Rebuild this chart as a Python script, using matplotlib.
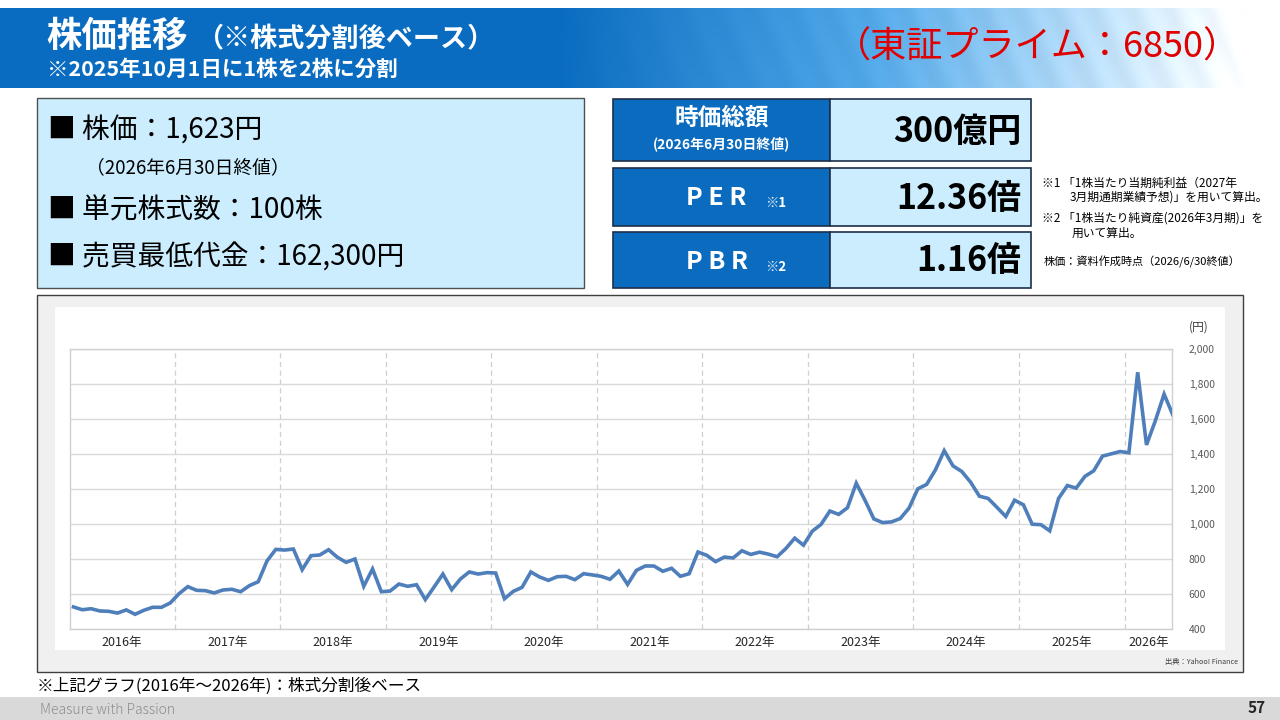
import numpy as np
import matplotlib
matplotlib.use("Agg")
import matplotlib.pyplot as plt
from matplotlib.patches import Rectangle
from matplotlib.ticker import FuncFormatter, FixedLocator

plt.rcParams['font.family'] = ['Noto Sans CJK JP', 'DejaVu Sans']

# ---------------- data ----------------
years = ["2016年", "2017年", "2018年", "2019年", "2020年", "2021年",
         "2022年", "2023年", "2024年", "2025年", "2026年"]
price_2016 = [526, 510, 516, 503, 501, 491, 509, 484, 507, 524, 524, 549]
price_2017 = [602, 642, 621, 619, 606, 623, 627, 613, 648, 670, 789, 855]
price_2018 = [851, 857, 739, 819, 823, 853, 810, 781, 800, 644, 743, 613]
price_2019 = [617, 657, 644, 653, 568, 640, 714, 625, 686, 726, 714, 722]
price_2020 = [720, 573, 615, 638, 726, 697, 678, 699, 701, 682, 716, 709]
price_2021 = [701, 684, 731, 655, 735, 760, 760, 730, 747, 701, 716, 840]
price_2022 = [821, 785, 811, 806, 847, 826, 839, 828, 813, 860, 919, 879]
price_2023 = [959, 998, 1074, 1055, 1093, 1233, 1135, 1029, 1008, 1012, 1031, 1091]
price_2024 = [1201, 1226, 1309, 1419, 1332, 1300, 1239, 1159, 1146, 1095, 1043, 1136]
price_2025 = [1110, 999, 996, 961, 1146, 1220, 1205, 1272, 1304, 1388, 1401, 1414]
price_2026 = [1407, 1867, 1452, 1589, 1742, 1623]
y_ticks = [400, 600, 800, 1000, 1200, 1400, 1600, 1800, 2000]

prices = (price_2016 + price_2017 + price_2018 + price_2019 + price_2020 +
          price_2021 + price_2022 + price_2023 + price_2024 + price_2025 + price_2026)

info_lines = ["■ 株価：1,623円", "■ 単元株式数：100株", "■ 売買最低代金：162,300円"]
info_note = "（2026年6月30日終値）"
metric_values = ["300億円", "12.36倍", "1.16倍"]

W, H = 1280, 720
fig = plt.figure(figsize=(12.8, 7.2), dpi=100)
fig.patch.set_facecolor("white")

bg = fig.add_axes([0, 0, 1, 1])
bg.set_xlim(0, W)
bg.set_ylim(H, 0)
bg.axis("off")

# ---------------- header gradient ----------------
gx = np.linspace(0, W, 640)
gy = np.linspace(8, 88, 40)
X, Y = np.meshgrid(gx, gy)
dark = np.array([0x0a, 0x6c, 0xc0]) / 255.0
mid = np.array([0x4f, 0xa6, 0xe6]) / 255.0
white = np.array([1.0, 1.0, 1.0])
t = np.clip((X - 560) / 690.0, 0, 1)
img = np.zeros(X.shape + (3,))
for c in range(3):
    a = np.where(t < 0.45, dark[c] + (mid[c] - dark[c]) * (t / 0.45),
                 mid[c] + (white[c] - mid[c]) * ((t - 0.45) / 0.55))
    img[..., c] = a
stripe = 0.5 + 0.5 * np.sin((X + (88 - Y) * 0.45) / 38.0 * 2 * np.pi)
img = img + (stripe[..., None] * 0.05 * np.clip(t, 0.05, 1)[..., None])
img = np.clip(img, 0, 1)
bg.imshow(img, extent=[0, W, 88, 8], aspect="auto", zorder=1)

bg.text(46, 36, "株価推移", color="white", fontsize=25.5, fontweight="bold",
        va="center", ha="left", zorder=3)
bg.text(196, 39, "（※株式分割後ベース）", color="white", fontsize=19.5,
        fontweight="bold", va="center", ha="left", zorder=3)
bg.text(47, 69, "※2025年10月1日に1株を2株に分割", color="white", fontsize=15.5,
        fontweight="bold", va="center", ha="left", zorder=3)
bg.text(1240, 48, "（東証プライム：6850）", color="#e00000", fontsize=26,
        va="center", ha="right", zorder=3)

# ---------------- left info box ----------------
bg.add_patch(Rectangle((37, 98), 547, 190, facecolor="#ccedfd",
                       edgecolor="#505050", lw=1.0, zorder=2))
bg.text(48, 131, info_lines[0], fontsize=20, va="center", ha="left", zorder=3)
bg.text(86, 168, info_note, fontsize=13.5, va="center", ha="left", zorder=3)
bg.text(48, 211, info_lines[1], fontsize=20, va="center", ha="left", zorder=3)
bg.text(48, 258, info_lines[2], fontsize=20, va="center", ha="left", zorder=3)

# ---------------- right metric boxes ----------------
rows = [(99, 62), (168, 58), (232, 56)]
for (top, h), val in zip(rows, metric_values):
    bg.add_patch(Rectangle((613, top), 217, h, facecolor="#0b6cbf",
                           edgecolor="#1c2f4a", lw=1.2, zorder=2))
    bg.add_patch(Rectangle((830, top), 201, h, facecolor="#ccedfd",
                           edgecolor="#1c2f4a", lw=1.2, zorder=2))
    bg.text(1021, top + h / 2 + 1, val, fontsize=24.5, fontweight="bold",
            va="center", ha="right", zorder=3)

bg.text(722, 118, "時価総額", color="white", fontsize=17, fontweight="bold",
        va="center", ha="center", zorder=3)
bg.text(722, 144, "(2026年6月30日終値)", color="white", fontsize=10,
        fontweight="bold", va="center", ha="center", zorder=3)
bg.text(686, 198, "P E R", color="white", fontsize=18, fontweight="bold",
        va="center", ha="left", zorder=3)
bg.text(765, 203, "※1", color="white", fontsize=9.5, fontweight="bold",
        va="center", ha="left", zorder=3)
bg.text(686, 262, "P B R", color="white", fontsize=18, fontweight="bold",
        va="center", ha="left", zorder=3)
bg.text(765, 267, "※2", color="white", fontsize=9.5, fontweight="bold",
        va="center", ha="left", zorder=3)

note_fs = 8.5
bg.text(1042, 183, "※1 「1株当たり当期純利益（2027年", fontsize=note_fs,
        va="center", ha="left", zorder=3)
bg.text(1070, 197, "3月期通期業績予想)」を用いて算出。", fontsize=note_fs,
        va="center", ha="left", zorder=3)
bg.text(1042, 218, "※2 「1株当たり純資産(2026年3月期)」を", fontsize=note_fs,
        va="center", ha="left", zorder=3)
bg.text(1072, 233, "用いて算出。", fontsize=note_fs, va="center", ha="left", zorder=3)
bg.text(1044, 262, "株価：資料作成時点（2026/6/30終値）", fontsize=8,
        va="center", ha="left", zorder=3)

# ---------------- chart frame ----------------
bg.add_patch(Rectangle((37, 295), 1206, 377, facecolor="#f0f0f0",
                       edgecolor="#404040", lw=1.0, zorder=2))
bg.add_patch(Rectangle((55, 307), 1170, 343, facecolor="white",
                       edgecolor="none", zorder=2))
bg.text(1199, 327, "(円)", fontsize=8.5, color="#404040", va="center",
        ha="center", zorder=3)
bg.text(1238, 662, "出典：Yahoo! Finance", fontsize=5.2, color="#404040",
        va="center", ha="right", zorder=3)
bg.text(37, 686, "※上記グラフ(2016年～2026年)：株式分割後ベース", fontsize=12,
        va="center", ha="left", zorder=3)

# ---------------- footer ----------------
bg.add_patch(Rectangle((0, 697), W, 23, facecolor="#d9d9d9",
                       edgecolor="none", zorder=2))
bg.text(40, 710, "Measure with Passion", fontsize=10, color="#8c8c8c",
        fontweight="light", va="center", ha="left", zorder=3)
bg.text(1266, 708, "57", fontsize=11, fontweight="bold", color="#262626",
        va="center", ha="right", zorder=3)

# ---------------- line chart ----------------
x0, x1, y0, y1 = 70, 1172, 349, 629
ax = fig.add_axes([x0 / W, 1 - y1 / H, (x1 - x0) / W, (y1 - y0) / H], zorder=5)
ax.set_facecolor("none")
xs = np.arange(len(prices)) + 0.5
ax.plot(xs, prices, color="#4f7fbb", lw=2.6, solid_joinstyle="miter", zorder=3)
ax.set_xlim(0.1, 125.4)
ax.set_ylim(400, 2000)

ax.yaxis.tick_right()
ax.set_yticks(y_ticks)
ax.yaxis.set_major_formatter(FuncFormatter(lambda v, p: f"{int(v):,}"))
ax.tick_params(axis="y", length=0, pad=12, labelsize=7.5, labelcolor="#595959")
ax.grid(axis="y", color="#d9d9d9", lw=1.0)

boundaries = [12 * k for k in range(1, len(years))]
for b in boundaries:
    ax.axvline(b, color="#cfcfcf", lw=0.9, ls=(0, (4, 3)), zorder=1)
centers = [12 * k + 6 for k in range(len(years) - 1)] + [(120 + 125.4) / 2]
ax.xaxis.set_major_locator(FixedLocator(centers))
ax.set_xticklabels(years)
ax.tick_params(axis="x", length=0, pad=5, labelsize=9, labelcolor="#262626")

for s in ax.spines.values():
    s.set_color("#d0d0d0")
    s.set_linewidth(1.0)

fig.savefig("out.png", dpi=100)
